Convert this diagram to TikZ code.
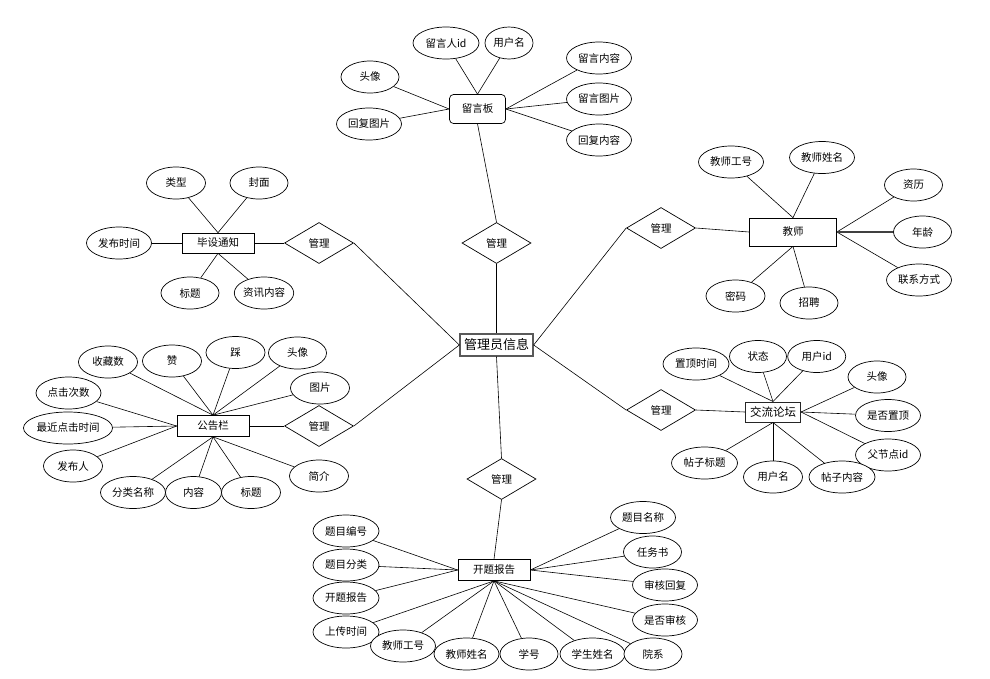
\documentclass[tikz,border=0pt]{standalone}
\usepackage{fontspec}
\setmainfont{Noto Sans CJK SC}
\usetikzlibrary{shapes.geometric}
\tikzset{
  erent/.style={draw=black,line width=0.7pt,minimum width=#1,minimum height=21pt,inner sep=0pt,font=\fontsize{10.5}{12}\selectfont},
  erent/.default=72pt,
  erattr/.style={ellipse,draw=black,fill=white,line width=0.7pt,minimum width=#1,minimum height=32pt,inner sep=0pt,font=\fontsize{10.5}{12}\selectfont},
  erattr/.default=59pt,
  errel/.style={diamond,draw=black,line width=0.7pt,minimum width=69pt,minimum height=41pt,inner sep=0pt,font=\fontsize{10.5}{12}\selectfont},
  erline/.style={line width=0.6pt}
}

\begin{document}
\begin{tikzpicture}[x=1pt,y=-1pt]
  \useasboundingbox (0,0) rectangle (990,678);
  % centre entity and relations
  \node[erent=73pt,draw=black!65,line width=1.3pt,minimum height=22pt,font=\fontsize{13}{15}\selectfont] (gly) at (496.5,345) {管理员信息};
  \node[errel] (gl1) at (496.5,243) {管理};
  \node[errel] (gl2) at (319,243) {管理};
  \node[errel] (gl3) at (319,426) {管理};
  \node[errel] (gl4) at (661,228) {管理};
  \node[errel] (gl5) at (661,410) {管理};
  \node[errel] (gl6) at (501.5,479) {管理};
  % entities
  \node[erent=56pt,rounded corners=4pt,minimum height=29pt] (lyb) at (477.5,109) {留言板};
  \node[erent=72pt,minimum height=20pt] (bstz) at (218,243) {毕设通知};
  \node[erent=87pt,minimum height=28pt] (js) at (793,232) {教师};
  \node[erent=72pt] (ggl) at (213,426) {公告栏};
  \node[erent=55pt,minimum height=20pt,draw=black!85,line width=1pt,font=\fontsize{11.5}{13}\selectfont] (jllt) at (773,412) {交流论坛};
  \node[erent=72pt] (ktbg) at (494,570) {开题报告};
  % 留言板
  \node[erattr=66pt] (lyid) at (446,43) {留言人id};
  \node[erattr=48pt] (lyname) at (509,43) {用户名};
  \node[erattr=58pt] (lyhead) at (370,77) {头像};
  \node[erattr=65pt] (lyrimg) at (369,124) {回复图片};
  \node[erattr=65pt] (lytext) at (599,58) {留言内容};
  \node[erattr=65pt] (lyimg) at (599,99) {留言图片};
  \node[erattr=65pt] (lyrtext) at (599,140) {回复内容};
  % 毕设通知
  \node[erattr] (bslx) at (176,183) {类型};
  \node[erattr=58pt] (bsfm) at (259,183) {封面};
  \node[erattr=65pt] (bstime) at (119,243) {发布时间};
  \node[erattr=58pt] (bstitle) at (190,293) {标题};
  \node[erattr=58pt] (bstext) at (264,293) {资讯内容};
  % 教师
  \node[erattr=65pt] (jsid) at (731,162) {教师工号};
  \node[erattr=65pt] (jsname) at (822,157.5) {教师姓名};
  \node[erattr=58pt] (jszl) at (913.5,185) {资历};
  \node[erattr=58pt] (jsage) at (922.5,232) {年龄};
  \node[erattr=65pt] (jstel) at (919,280) {联系方式};
  \node[erattr] (jspwd) at (735.5,296) {密码};
  \node[erattr=58pt] (jszp) at (809,303) {招聘};
  % 公告栏
  \node[erattr] (ggsc) at (108,362) {收藏数};
  \node[erattr] (ggz) at (172,361) {赞};
  \node[erattr] (ggc) at (235.5,352.5) {踩};
  \node[erattr=58pt] (gghead) at (297.5,353) {头像};
  \node[erattr] (ggimg) at (320,388) {图片};
  \node[erattr=65pt] (ggdj) at (68.5,393) {点击次数};
  \node[erattr=87pt] (ggzj) at (68,428) {最近点击时间};
  \node[erattr] (ggfb) at (73,466) {发布人};
  \node[erattr=65pt] (ggfl) at (133,492.5) {分类名称};
  \node[erattr=56pt] (ggnr) at (193.5,492.5) {内容};
  \node[erattr] (ggbt) at (251,492.5) {标题};
  \node[erattr] (ggjj) at (319,476) {简介};
  % 交流论坛
  \node[erattr=66pt] (ltzd) at (696,364) {置顶时间};
  \node[erattr=57pt] (ltzt) at (758,356.5) {状态};
  \node[erattr=58pt] (ltuid) at (816.7,356.5) {用户id};
  \node[erattr=58pt] (lthead) at (877,377) {头像};
  \node[erattr=65pt] (ltsfzd) at (888,415.5) {是否置顶};
  \node[erattr=65pt] (ltfid) at (888,455) {父节点id};
  \node[erattr=66pt] (ltnr) at (842,477) {帖子内容};
  \node[erattr] (ltname) at (773,477) {用户名};
  \node[erattr=66pt] (lttitle) at (704.5,463) {帖子标题};
  % 开题报告
  \node[erattr=66pt] (ktbh) at (346,531) {题目编号};
  \node[erattr=66pt] (ktfl) at (346,565) {题目分类};
  \node[erattr=66pt] (ktbgf) at (346,598) {开题报告};
  \node[erattr=66pt] (ktsc) at (346,632) {上传时间};
  \node[erattr=65pt] (ktjsid) at (403,646) {教师工号};
  \node[erattr=65pt] (ktjsname) at (466.5,654) {教师姓名};
  \node[erattr=58pt] (ktxh) at (529,654) {学号};
  \node[erattr=65pt] (ktxs) at (592.5,654) {学生姓名};
  \node[erattr=58pt] (ktyx) at (653,654) {院系};
  \node[erattr=65pt] (ktmc) at (643,517.5) {题目名称};
  \node[erattr=58pt] (ktrws) at (652.5,552) {任务书};
  \node[erattr=65pt] (kthf) at (665,585) {审核回复};
  \node[erattr=65pt] (ktsh) at (665,620) {是否审核};
  % connectors
  \draw[erline] (lyb.south) -- (gl1.north);
  \draw[erline] (gl1.south) -- (gly.north);
  \draw[erline] (bstz.east) -- (gl2.west);
  \draw[erline] (gl2.east) -- (gly.west);
  \draw[erline] (ggl.east) -- (gl3.west);
  \draw[erline] (gl3.east) -- (gly.west);
  \draw[erline] (gly.east) -- (gl4.west);
  \draw[erline] (gl4.east) -- (js.west);
  \draw[erline] (gly.east) -- (gl5.west);
  \draw[erline] (gl5.east) -- (jllt.west);
  \draw[erline] (gly.south) -- (gl6.north);
  \draw[erline] (gl6.south) -- (ktbg.north);
  \foreach \a in {lyid,lyname} \draw[erline] (lyb.north) -- (\a);
  \foreach \a in {lyhead,lyrimg} \draw[erline] (lyb.west) -- (\a);
  \foreach \a in {lytext,lyimg,lyrtext} \draw[erline] (lyb.east) -- (\a);
  \foreach \a in {bslx,bsfm} \draw[erline] (bstz.north) -- (\a);
  \draw[erline] (bstz.west) -- (bstime);
  \foreach \a in {bstitle,bstext} \draw[erline] (bstz.south) -- (\a);
  \foreach \a in {jsid,jsname} \draw[erline] (js.north) -- (\a);
  \foreach \a in {jszl,jstel} \draw[erline] (js.east) -- (\a);
  \draw[line width=1.4pt,black!75] (js.east) -- (jsage);
  \foreach \a in {jspwd,jszp} \draw[erline] (js.south) -- (\a);
  \foreach \a in {ggsc,ggz,ggc,gghead,ggimg} \draw[erline] (ggl.north) -- (\a);
  \foreach \a in {ggdj,ggzj,ggfb} \draw[erline] (ggl.west) -- (\a);
  \foreach \a in {ggfl,ggnr,ggbt,ggjj} \draw[erline] (ggl.south) -- (\a);
  \foreach \a in {ltzd,ltzt,ltuid} \draw[erline] (jllt.north) -- (\a);
  \foreach \a in {lthead,ltsfzd,ltfid} \draw[erline] (jllt.east) -- (\a);
  \foreach \a in {lttitle,ltname,ltnr} \draw[erline] (jllt.south) -- (\a);
  \foreach \a in {ktbh,ktfl,ktbgf} \draw[erline] (ktbg.west) -- (\a);
  \foreach \a in {ktsc,ktjsid,ktjsname,ktxh,ktxs,ktyx,ktsh} \draw[erline] (ktbg.south) -- (\a);
  \foreach \a in {ktmc,ktrws,kthf} \draw[erline] (ktbg.east) -- (\a);
\end{tikzpicture}
\end{document}
